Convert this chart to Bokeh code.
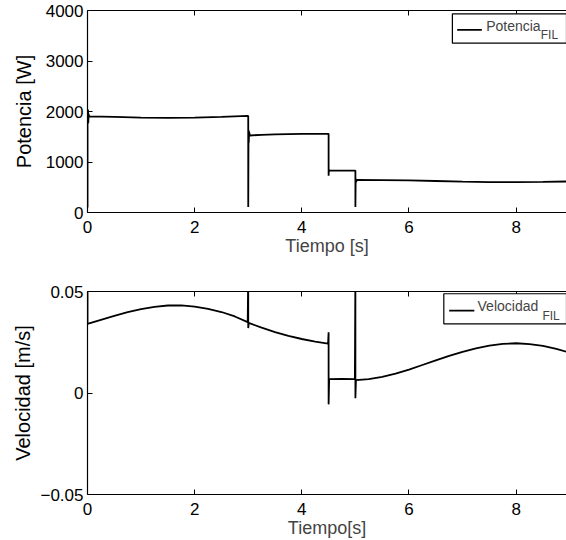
from bokeh.plotting import figure
from bokeh.models import FixedTicker, LinearAxis, BoxAnnotation, Label, Arrow, Title, Range1d
from bokeh.layouts import column
from bokeh.embed import file_html
from bokeh.resources import INLINE

FONT = "Liberation Sans"

# ---- data ----
t_pot = [0.0, 0.0, 0.005, 0.01, 0.015, 0.02, 0.03, 0.5, 1.0, 1.5, 2.0, 2.5, 2.99,
         3.0, 3.0, 3.005, 3.01, 3.015, 3.03, 3.25, 3.5, 4.0, 4.49,
         4.5, 4.5, 4.505, 4.52, 5.0, 5.0, 5.005, 5.01, 5.03,
         5.5, 6.0, 6.5, 7.0, 7.5, 8.0, 8.5, 9.0]
pot = [100, 2050, 1750, 2030, 1780, 1950, 1905, 1893, 1880, 1873, 1877, 1893, 1912,
       1912, 110, 1640, 1380, 1600, 1525, 1538, 1548, 1555, 1558,
       1558, 730, 845, 832, 830, 110, 665, 600, 645,
       643, 636, 624, 612, 603, 600, 605, 615]

t_vel = [0.0, 0.0, 0.25, 0.5, 0.75, 1.0, 1.25, 1.5, 1.75, 2.0, 2.25, 2.5, 2.75, 2.99,
         3.0, 3.0, 3.01, 3.25, 3.5, 3.75, 4.0, 4.25, 4.49,
         4.5, 4.5, 4.51, 4.75, 4.99, 5.0, 5.0, 5.01,
         5.25, 5.5, 5.75, 6.0, 6.25, 6.5, 6.75, 7.0, 7.25, 7.5, 7.75, 8.0, 8.25, 8.5, 8.75, 9.0]
vel = [0.06, 0.034, 0.036, 0.038, 0.0398, 0.0413, 0.0424, 0.0431, 0.0432, 0.0426, 0.0414, 0.0399, 0.0377, 0.0349,
       0.06, 0.032, 0.0345, 0.0322, 0.0300, 0.0281, 0.0266, 0.0253, 0.0243,
       0.0299, -0.0056, 0.0068, 0.0069, 0.0068, 0.06, -0.0026, 0.0063,
       0.0068, 0.0079, 0.0095, 0.0115, 0.0138, 0.0161, 0.0183, 0.0203, 0.0220, 0.0233, 0.0242, 0.0245, 0.0241, 0.0232, 0.0217, 0.0199]

x_ticks = [0, 2, 4, 6, 8]
pot_ticks = [0, 1000, 2000, 3000, 4000]
vel_ticks = [-0.05, 0, 0.05]
vel_tick_labels = ["\u22120.05", "0", "0.05"]

X_END = 8.94
TICK_FS = "17px"
XLAB_FS = "18px"
YLAB_FS = "20px"


def make_fig(height, y_range, yticks, ylabel, xlabel, min_top, min_bottom, ylab_standoff):
    p = figure(width=566, height=height, x_range=Range1d(0, X_END), y_range=y_range,
               output_backend="svg", toolbar_location=None,
               min_border_left=87, min_border_right=0,
               min_border_top=min_top, min_border_bottom=min_bottom)
    p.xgrid.visible = False
    p.ygrid.visible = False
    p.outline_line_color = None
    p.background_fill_color = "white"
    p.border_fill_color = "white"
    p.xaxis.ticker = FixedTicker(ticks=x_ticks)
    p.yaxis.ticker = FixedTicker(ticks=yticks)
    p.yaxis.axis_label = ylabel
    for ax in p.axis:
        ax.axis_line_color = "black"
        ax.axis_line_width = 1.2
        ax.major_tick_in = 5
        ax.major_tick_out = 0
        ax.major_tick_line_color = "black"
        ax.minor_tick_line_color = None
        ax.major_label_text_font = FONT
        ax.major_label_text_font_size = TICK_FS
        ax.major_label_text_color = "black"
        ax.axis_label_text_font = FONT
        ax.axis_label_text_font_size = YLAB_FS
        ax.axis_label_text_font_style = "normal"
        ax.axis_label_text_color = "black"
    p.xaxis.major_label_standoff = 8
    p.yaxis.major_label_standoff = 4
    p.yaxis.axis_label_standoff = ylab_standoff
    top = LinearAxis(ticker=FixedTicker(ticks=x_ticks), major_label_text_font_size="1px",
                     major_label_text_color=None,
                     major_tick_in=5, major_tick_out=0, minor_tick_line_color=None,
                     axis_line_width=1.2, major_label_standoff=0)
    p.add_layout(top, "above")
    p.add_layout(Title(text=xlabel, align="center", offset=3, text_font=FONT,
                       text_font_size=XLAB_FS, text_font_style="normal", standoff=-3), "below")
    return p


p1 = make_fig(260, Range1d(0, 4000), pot_ticks, "Potencia [W]", "Tiempo [s]", 10, 48, 8)
p1.line(t_pot, pot, line_color="black", line_width=1.8)
p1.add_layout(BoxAnnotation(left=6.81, top=3935, bottom=3352, fill_color="white", fill_alpha=1,
                            line_color="black", line_width=1.2, line_alpha=1))
p1.add_layout(Arrow(end=None, x_start=6.90, y_start=3618, x_end=7.36, y_end=3618,
                    line_width=1.8, line_color="black"))
p1.add_layout(Label(x=7.44, y=3539, text="Potencia", text_font=FONT, text_font_size="14px"))
p1.add_layout(Label(x=8.46, y=3386, text="FIL", text_font=FONT, text_font_size="12px"))

p2 = make_fig(280, Range1d(-0.05, 0.05), vel_ticks, "Velocidad [m/s]", "Tiempo[s]", 31, 46, 3)
p2.yaxis.major_label_overrides = dict(zip(vel_ticks, vel_tick_labels))
p2.line(t_vel, vel, line_color="black", line_width=1.8)
p2.add_layout(BoxAnnotation(left=6.65, top=0.0489, bottom=0.0341, fill_color="white", fill_alpha=1,
                            line_color="black", line_width=1.2, line_alpha=1))
p2.add_layout(Arrow(end=None, x_start=6.75, y_start=0.0406, x_end=7.22, y_end=0.0406,
                    line_width=1.8, line_color="black"))
p2.add_layout(Label(x=7.28, y=0.0387, text="Velocidad", text_font=FONT, text_font_size="14px"))
p2.add_layout(Label(x=8.49, y=0.0344, text="FIL", text_font=FONT, text_font_size="12px"))

layout = column(p1, p2, spacing=0)
open("out.html", "w").write(file_html(layout, INLINE))
